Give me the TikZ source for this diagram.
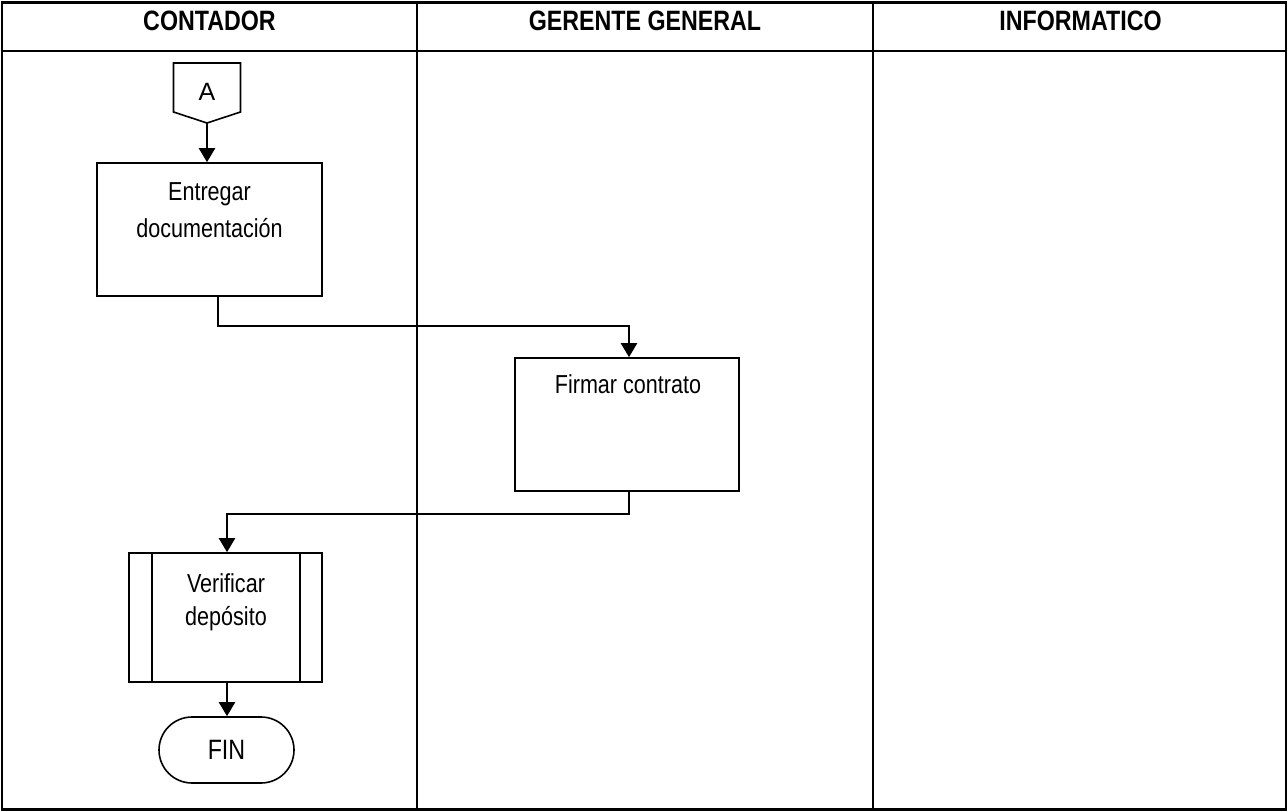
\documentclass[tikz,border=0pt]{standalone}
\usepackage{fontspec}
\setmainfont{Liberation Sans}
\newfontfamily\narrowfont[FakeStretch=0.83]{Liberation Sans}
\usetikzlibrary{arrows.meta,calc}

\begin{document}
\begin{tikzpicture}[x=1pt,y=-1pt,
  frame/.style={line width=2.4pt},
  lanehead/.style={font=\narrowfont\bfseries\fontsize{28}{34}\selectfont, inner sep=0pt},
  procbox/.style={draw, line width=1.6pt, inner sep=0pt},
  boxtext/.style={font=\narrowfont\fontsize{26}{37}\selectfont, align=center, inner sep=0pt, anchor=north},
  flow/.style={line width=2.2pt, -{Triangle[width=16pt,length=14pt]}},
]
\useasboundingbox (0,0) rectangle (1288,811);

% swimlane table
\draw[frame] (2,2.5) rectangle (1286,809.5);
\draw[frame] (2,51) -- (1286,51);
\draw[frame] (417,2.5) -- (417,809.5);
\draw[frame] (873,2.5) -- (873,809.5);

\node[lanehead] (hContador) at (209.5,21) {CONTADOR};
\node[lanehead] (hGerente) at (645,21) {GERENTE GENERAL};
\node[lanehead] (hInformatico) at (1080.5,21) {INFORMATICO};

% off-page connector A
\node[font=\fontsize{25}{30}\selectfont, inner sep=0pt] (conA) at (207,92) {A};
\draw[line width=1.6pt] ($(conA)+(-33.5,-29)$) -- ++(67,0) -- ++(0,49)
  -- ++(-33.5,11) coordinate (tipA) -- ++(-33.5,-11) -- cycle;

% process boxes
\node[procbox, minimum width=225, minimum height=133] (entregar) at (209.5,229.5) {};
\node[boxtext] (entregarT) at (209.5,182) {Entregar\\documentación};

\node[procbox, minimum width=224, minimum height=133] (firmar) at (627,424.5) {};
\node[boxtext] (firmarT) at (628,374) {Firmar contrato};

\node[procbox, minimum width=193, minimum height=129] (verificar) at (225.5,617.5) {};
\draw[line width=1.6pt] ([xshift=24]verificar.north west) -- ([xshift=24]verificar.south west);
\draw[line width=1.6pt] ([xshift=-23]verificar.north east) -- ([xshift=-23]verificar.south east);
\node[boxtext] (verificarT) at (226,573) {Verificar\\[-4pt]depósito};

% terminator
\node[draw, line width=1.6pt, rounded corners=33pt, minimum width=135, minimum height=66,
  inner sep=0pt, font=\narrowfont\fontsize{28}{34}\selectfont] (fin) at (226.5,750) {FIN};

% flow connectors
\draw[flow] (tipA) -- (tipA |- entregar.north);
\draw[flow] ([xshift=8.5]entregar.south) |- ($(firmar.north)+(2,-31)$) -- ([xshift=2]firmar.north);
\draw[flow] ([xshift=2]firmar.south) |- ($(verificar.north)+(1.5,-38)$) -- ([xshift=1.5]verificar.north);
\draw[flow] ([xshift=1.5]verificar.south) -- ([xshift=1.5]verificar.south |- fin.north);
\end{tikzpicture}
\end{document}
